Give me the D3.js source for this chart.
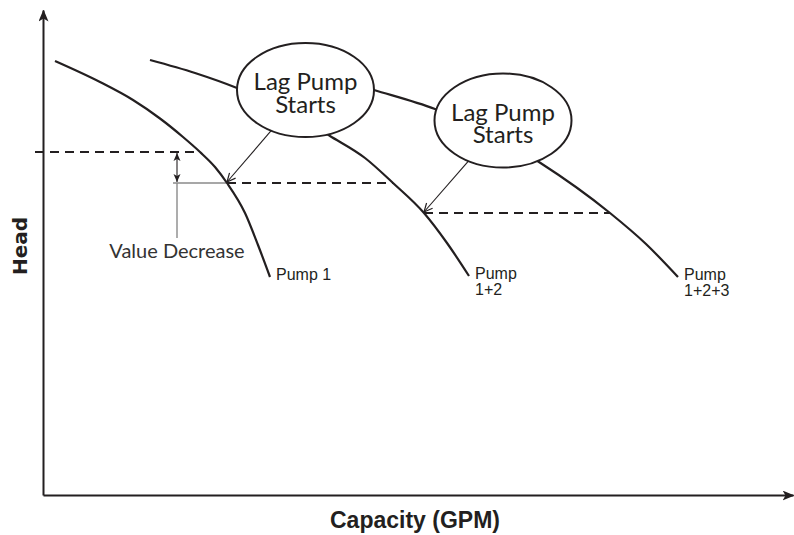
<!DOCTYPE html>
<html>
<head>
<meta charset="utf-8">
<script src="https://cdn.jsdelivr.net/npm/d3@7"></script>
<style>
  body { margin: 0; background: #fff; }
  svg { display: block; }
</style>
</head>
<body>
<script>
// Pump performance curves: [capacity, head] in arbitrary units
const pump1 = [[2.4, 86.8], [11.4, 82.6], [18, 79], [23.4, 75.3], [28, 71.6], [31.4, 68.6], [34.4, 65.6], [36.8, 62.4], [40.4, 56.4], [43, 50], [45.4, 43.6]];
const pump12 = [[21.4, 87], [30.4, 84.4], [38.8, 81.4], [49.4, 76.6], [57.4, 71.8], [64.4, 67.4], [70, 62.4], [76.2, 56.4], [80.8, 50.4], [85.2, 43.8]];
const pump123 = [[55.4, 84.2], [66.2, 81], [78.4, 77.2], [89.4, 72.4], [99.2, 66.6], [113.4, 56.4], [120.6, 50.2], [127, 43.6]];
const curveNames = [["Pump 1"], ["Pump", "1+2"], ["Pump", "1+2+3"]];

// System operating levels: head, capacity start, capacity end
const levelHead = [68.6, 62.4, 56.4];
const levelFrom = [-1.6, 36.8, 76.2];
const levelTo = [31.4, 70, 113.4];

// "Lag Pump Starts" callouts: bubble centre and the operating point it points at
const calloutCentre = [[52.5, 81], [92, 74.9]];
const calloutTarget = [[36.8, 62.4], [76.2, 56.4]];
const calloutText = ["Lag Pump", "Starts"];

// Head drop marker
const dropCapacity = 26.8;
const dropLabelHead = 51.4;
const dropGuideFrom = 26;
const dropLabel = "Value Decrease";

const W = 794, H = 535;
const ink = "#231f20";

const svg = d3.select("body").append("svg")
  .attr("width", W).attr("height", H)
  .attr("font-family", "Lato, 'Noto Sans', sans-serif");

const x = d3.scaleLinear().domain([0, 150]).range([43, 793]);
const y = d3.scaleLinear().domain([0, 97]).range([495, 10]);

const defs = svg.append("defs");
defs.append("marker")
  .attr("id", "axisHead").attr("viewBox", "0 0 12 10")
  .attr("refX", 11).attr("refY", 5)
  .attr("markerWidth", 12).attr("markerHeight", 10)
  .attr("markerUnits", "userSpaceOnUse").attr("orient", "auto")
  .append("path").attr("d", "M0,0 L12,5 L0,10 L3,5 Z").attr("fill", ink);
defs.append("marker")
  .attr("id", "leaderHead").attr("viewBox", "0 0 10 10")
  .attr("refX", 9.5).attr("refY", 5)
  .attr("markerWidth", 10).attr("markerHeight", 10)
  .attr("markerUnits", "userSpaceOnUse").attr("orient", "auto")
  .append("path").attr("d", "M1,1 L9.5,5 L1,9").attr("fill", "none")
  .attr("stroke", ink).attr("stroke-width", 1.2);
defs.append("marker")
  .attr("id", "dropHead").attr("viewBox", "0 0 8 8")
  .attr("refX", 8).attr("refY", 4)
  .attr("markerWidth", 8).attr("markerHeight", 8)
  .attr("markerUnits", "userSpaceOnUse").attr("orient", "auto-start-reverse")
  .append("path").attr("d", "M0,0.5 L8,4 L0,7.5 L2,4 Z").attr("fill", ink);

// Axes (no ticks, arrow-headed)
const xAxis = svg.append("g").attr("transform", `translate(0,${y(0)})`)
  .call(d3.axisBottom(x).tickValues([]).tickSizeOuter(0));
const yAxis = svg.append("g").attr("transform", `translate(${x(0)},0)`)
  .call(d3.axisLeft(y).tickValues([]).tickSizeOuter(0));
[xAxis, yAxis].forEach(a => a.select(".domain")
  .attr("stroke", ink).attr("stroke-width", 2).attr("marker-end", "url(#axisHead)"));

svg.append("text")
  .attr("transform", "translate(27,246) rotate(-90)")
  .attr("text-anchor", "middle").attr("font-weight", 700).attr("font-size", 20)
  .attr("font-family", "'DejaVu Sans', sans-serif")
  .attr("fill", ink).text("Head");
svg.append("text")
  .attr("x", 415).attr("y", 528)
  .attr("text-anchor", "middle").attr("font-weight", 700).attr("font-size", 23)
  .attr("font-family", "'Liberation Sans Narrow', 'Liberation Sans', sans-serif")
  .attr("fill", ink).text("Capacity (GPM)");

// Operating level lines
levelHead.forEach((h, i) => {
  svg.append("line")
    .attr("x1", x(levelFrom[i])).attr("x2", x(levelTo[i]))
    .attr("y1", y(h)).attr("y2", y(h))
    .attr("stroke", ink).attr("stroke-width", 2).attr("stroke-dasharray", "9,6");
});

// Head drop indicator
svg.append("line")
  .attr("x1", x(dropGuideFrom)).attr("x2", x(calloutTarget[0][0]))
  .attr("y1", y(levelHead[1])).attr("y2", y(levelHead[1]))
  .attr("stroke", "#8a8a8a").attr("stroke-width", 1.4);
svg.append("line")
  .attr("x1", x(dropCapacity)).attr("x2", x(dropCapacity))
  .attr("y1", y(levelHead[1])).attr("y2", y(dropLabelHead))
  .attr("stroke", "#8a8a8a").attr("stroke-width", 1.4);
svg.append("line")
  .attr("x1", x(dropCapacity)).attr("x2", x(dropCapacity))
  .attr("y1", y(levelHead[0]) + 1).attr("y2", y(levelHead[1]) - 1)
  .attr("stroke", ink).attr("stroke-width", 1.1)
  .attr("marker-start", "url(#dropHead)").attr("marker-end", "url(#dropHead)");
svg.append("text")
  .attr("x", x(dropCapacity)).attr("y", y(dropLabelHead) + 20)
  .attr("text-anchor", "middle").attr("font-size", 20).attr("fill", "#333")
  .text(dropLabel);

// Pump curves
const line = d3.line().x(d => x(d[0])).y(d => y(d[1])).curve(d3.curveMonotoneX);
[pump1, pump12, pump123].forEach((s, i) => {
  svg.append("path").attr("d", line(s))
    .attr("fill", "none").attr("stroke", ink).attr("stroke-width", 2.2);
  const end = s[s.length - 1];
  const t = svg.append("text")
    .attr("x", x(end[0]) + 6).attr("y", y(end[1]) + 3)
    .attr("font-family", "'Liberation Sans', Arial, sans-serif")
    .attr("font-size", 16).attr("fill", ink);
  curveNames[i].forEach((n, j) => t.append("tspan")
    .attr("x", x(end[0]) + 6).attr("dy", j ? 15.5 : 0).text(n));
});

// Callout bubbles with leader arrows
const rx = 68.5, ry = 47;
calloutCentre.forEach((c, i) => {
  const cx = x(c[0]), cy = y(c[1]);
  const tx = x(calloutTarget[i][0]), ty = y(calloutTarget[i][1]);
  const dx = tx - cx, dy = ty - cy;
  const k = 1 / Math.sqrt((dx / rx) ** 2 + (dy / ry) ** 2);
  svg.append("line")
    .attr("x1", cx + dx * k).attr("y1", cy + dy * k)
    .attr("x2", tx).attr("y2", ty - 1)
    .attr("stroke", ink).attr("stroke-width", 1.1)
    .attr("marker-end", "url(#leaderHead)");
  svg.append("ellipse")
    .attr("cx", cx).attr("cy", cy).attr("rx", rx).attr("ry", ry)
    .attr("fill", "#fff").attr("stroke", ink).attr("stroke-width", 2);
  const t = svg.append("text").attr("text-anchor", "middle")
    .attr("font-size", 24).attr("fill", ink);
  calloutText.forEach((s, j) => t.append("tspan")
    .attr("x", cx).attr("y", cy + (j ? 22.5 : 0)).text(s));
});
</script>
</body>
</html>
